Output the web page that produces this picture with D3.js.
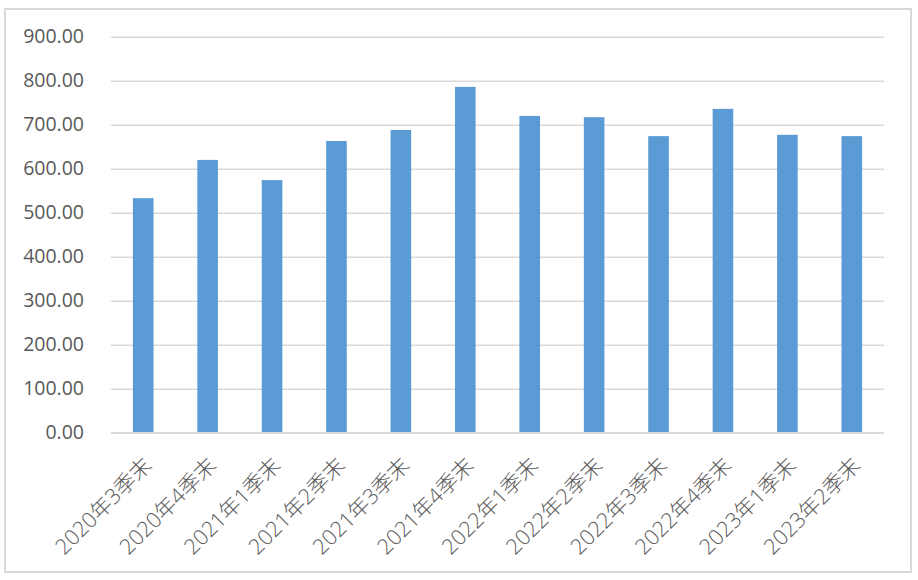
<!DOCTYPE html>
<html><head><meta charset="utf-8">
<script src="https://cdn.jsdelivr.net/npm/d3@7"></script>
<style>body{margin:0;background:#fff;} svg{display:block;}</style>
</head><body>
<svg id="chart" width="918" height="580"></svg>
<script>
const categories = ["2020年3季末","2020年4季末","2021年1季末","2021年2季末","2021年3季末","2021年4季末","2022年1季末","2022年2季末","2022年3季末","2022年4季末","2023年1季末","2023年2季末"];
const values = [533, 620, 574, 663, 688, 786, 720, 717, 674, 736, 677, 674];
const yTicks = [0,100,200,300,400,500,600,700,800,900];

const svg = d3.select("#chart");
svg.append("rect").attr("x",5).attr("y",9).attr("width",906).attr("height",563)
  .attr("fill","#fff").attr("stroke","#d9d9d9").attr("stroke-width",2);

const m = {left:111, right:884, top:36.7, bottom:432.7};
const x = d3.scaleBand().domain(categories).range([m.left, m.right]).paddingInner(0.68).paddingOuter(0.34);
const y = d3.scaleLinear().domain([0,900]).range([m.bottom, m.top]);

const yAxis = d3.axisLeft(y).tickValues(yTicks).tickSize(-(m.right-m.left)).tickFormat(d3.format(".2f"));
const gy = svg.append("g").attr("transform",`translate(${m.left},0)`).call(yAxis);
gy.select(".domain").remove();
gy.selectAll(".tick line").attr("stroke","#d9d9d9").attr("stroke-width",1.5);
gy.selectAll(".tick text").attr("x",-27).attr("fill","#595959")
  .style("font-family","'Open Sans',sans-serif").style("font-size","19.5px");

svg.append("g").selectAll("rect").data(values).join("rect")
  .attr("x",(d,i)=>x(categories[i])).attr("width",x.bandwidth())
  .attr("y",d=>y(d)).attr("height",d=>y(0)-y(d)).attr("fill","#5b9bd5");

// baseline
svg.append("line").attr("x1",m.left).attr("x2",m.right).attr("y1",y(0)).attr("y2",y(0))
  .attr("stroke","#d9d9d9").attr("stroke-width",1.5);

const xAxis = d3.axisBottom(x).tickSize(0);
const gx = svg.append("g").attr("transform",`translate(0,${m.bottom})`).call(xAxis);
gx.select(".domain").remove();
gx.selectAll(".tick text")
  .attr("fill","#595959")
  .style("font-family","'Open Sans','Noto Sans CJK SC',sans-serif").style("font-size","21.5px")
  .style("font-weight","300")
  .attr("text-anchor","end").attr("dy",null).attr("y",0)
  .attr("transform","translate(10,34) rotate(-45)");
</script>
</body></html>
